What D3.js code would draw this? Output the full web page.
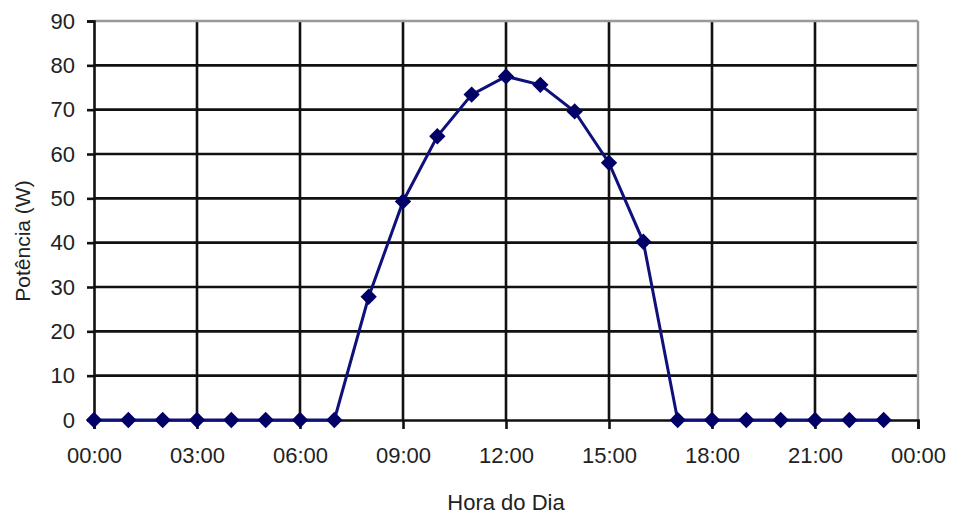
<!DOCTYPE html>
<html>
<head>
<meta charset="utf-8">
<script src="https://cdn.jsdelivr.net/npm/d3@7"></script>
<style>
  body { margin: 0; background: #fff; }
  svg text { font-family: "Liberation Sans", Arial, sans-serif; fill: #222; }
</style>
</head>
<body>
<div id="chart"></div>
<script>
// hour of day and measured power (W)
const hours = [0, 1, 2, 3, 4, 5, 6, 7, 8, 9, 10, 11, 12, 13, 14, 15, 16, 17, 18, 19, 20, 21, 22, 23];
const power = [0, 0, 0, 0, 0, 0, 0, 0, 27.8, 49.3, 64.0, 73.4, 77.5, 75.6, 69.6, 58.0, 40.2, 0, 0, 0, 0, 0, 0, 0];
const xTicks = [0, 3, 6, 9, 12, 15, 18, 21, 24];
const xTickLabels = ["00:00", "03:00", "06:00", "09:00", "12:00", "15:00", "18:00", "21:00", "00:00"];
const yTicks = [0, 10, 20, 30, 40, 50, 60, 70, 80, 90];

const width = 954, height = 517;
const margin = { left: 94, right: 36, top: 21, bottom: 97 };

const svg = d3.select("#chart")
    .append("svg")
    .attr("width", width)
    .attr("height", height);

const x = d3.scaleLinear().domain([0, 24]).range([margin.left, width - margin.right]);
const y = d3.scaleLinear().domain([0, 90]).range([height - margin.bottom, margin.top]);

// horizontal grid
svg.append("g")
    .selectAll("line")
    .data(yTicks.filter(d => d > 0 && d < 90))
    .join("line")
    .attr("x1", x(0)).attr("x2", x(24))
    .attr("y1", d => y(d)).attr("y2", d => y(d))
    .attr("stroke", "#111").attr("stroke-width", 2.6);

// vertical grid
svg.append("g")
    .selectAll("line")
    .data(xTicks.filter(d => d > 0 && d < 24))
    .join("line")
    .attr("x1", d => x(d)).attr("x2", d => x(d))
    .attr("y1", y(90)).attr("y2", y(0))
    .attr("stroke", "#111").attr("stroke-width", 2.6);

// plot border top / right (grey)
svg.append("line")
    .attr("x1", x(0)).attr("x2", x(24)).attr("y1", y(90)).attr("y2", y(90))
    .attr("stroke", "#999").attr("stroke-width", 2.4);
svg.append("line")
    .attr("x1", x(24)).attr("x2", x(24)).attr("y1", y(90)).attr("y2", y(0))
    .attr("stroke", "#999").attr("stroke-width", 2.4);

// y axis
const yAxis = svg.append("g")
    .attr("transform", `translate(${x(0)},0)`)
    .call(d3.axisLeft(y).tickValues(yTicks).tickSize(7).tickPadding(12).tickFormat(d3.format("d")));
yAxis.select(".domain").attr("stroke", "#111").attr("stroke-width", 2.6);
yAxis.selectAll(".tick line").attr("stroke", "#111").attr("stroke-width", 2.6);
yAxis.selectAll(".tick text").attr("font-size", 22).style("fill", "#222");

// x axis
const xAxis = svg.append("g")
    .attr("transform", `translate(0,${y(0)})`)
    .call(d3.axisBottom(x).tickValues(xTicks).tickSize(9).tickPadding(18)
        .tickFormat((d, i) => xTickLabels[i]));
xAxis.select(".domain").attr("stroke", "#111").attr("stroke-width", 2.6);
xAxis.selectAll(".tick line").attr("stroke", "#111").attr("stroke-width", 2.6);
xAxis.selectAll(".tick text").attr("font-size", 22).style("fill", "#222");

// series line
const line = d3.line()
    .x((d, i) => x(hours[i]))
    .y(d => y(d));

svg.append("path")
    .datum(power)
    .attr("fill", "none")
    .attr("stroke", "#10107a")
    .attr("stroke-width", 3)
    .attr("d", line);

// diamond markers
svg.append("g")
    .selectAll("path")
    .data(power)
    .join("path")
    .attr("transform", (d, i) => `translate(${x(hours[i])},${y(d)})`)
    .attr("d", d3.symbol().type(d3.symbolDiamond2).size(170))
    .attr("fill", "#000066");

// axis titles
svg.append("text")
    .attr("x", x(12))
    .attr("y", 510)
    .attr("text-anchor", "middle")
    .attr("font-size", 22)
    .text("Hora do Dia");

svg.append("text")
    .attr("transform", `translate(30,241) rotate(-90)`)
    .attr("text-anchor", "middle")
    .attr("font-size", 21)
    .text("Potência (W)");
</script>
</body>
</html>
